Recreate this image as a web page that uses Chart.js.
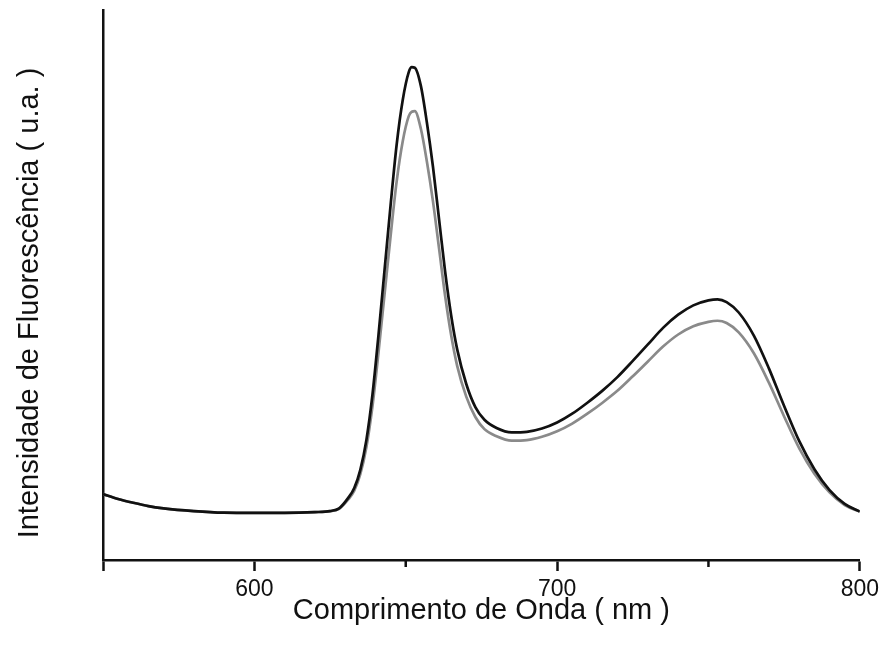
<!DOCTYPE html>
<html>
<head>
<meta charset="utf-8">
<script src="https://cdn.jsdelivr.net/npm/chart.js@4"></script>
<style>
  html, body { margin: 0; padding: 0; background: #fff; }
  #wrap { width: 879px; height: 646px; }
</style>
</head>
<body>
<div id="wrap"><canvas id="myChart"></canvas></div>
<script>
// wavelength (nm)
const wavelengths = [550, 555, 560, 565, 570, 580, 590, 600, 610, 620, 625, 628, 631, 633, 635,
  637, 639, 641, 643, 645, 647, 649, 651, 652, 653, 655, 657, 659, 661, 663,
  665, 667, 670, 673, 676, 680, 685, 690, 695, 700, 705, 710, 715, 720, 725,
  730, 735, 740, 745, 750, 753, 756, 760, 765, 770, 775, 780, 785, 790, 795, 800];

// fluorescence intensity (a.u.), black curve
const blackSeries = [12.0, 11.1, 10.4, 9.8, 9.4, 8.9, 8.6, 8.55, 8.55, 8.7, 8.9, 9.4, 11.3, 13.1, 16.4,
  21.8, 30.0, 40.9, 52.7, 64.5, 75.5, 83.6, 88.7, 89.6, 89.5, 86.2, 79.5, 71.5, 62.0, 52.5,
  44.5, 38.3, 32.0, 27.8, 25.5, 24.0, 23.2, 23.3, 23.9, 25.0, 26.6, 28.6, 30.8, 33.3, 36.2,
  39.2, 42.2, 44.6, 46.3, 47.2, 47.4, 46.9, 45.0, 40.8, 34.8, 28.0, 21.6, 16.5, 12.7, 10.2, 8.8];

// fluorescence intensity (a.u.), gray curve
const graySeries = [12.0, 11.1, 10.4, 9.8, 9.4, 8.9, 8.6, 8.55, 8.55, 8.7, 8.9, 9.3, 11.0, 12.6, 15.6,
  20.5, 27.9, 37.7, 48.3, 58.9, 68.8, 76.1, 80.7, 81.5, 81.6, 78.4, 72.4, 65.2, 56.7, 48.1,
  40.9, 35.3, 29.7, 26.0, 23.8, 22.5, 21.7, 21.8, 22.4, 23.4, 24.8, 26.6, 28.6, 30.8, 33.4,
  36.1, 38.8, 41.0, 42.5, 43.3, 43.5, 43.1, 41.4, 37.6, 32.2, 26.1, 20.3, 15.7, 12.3, 10.0, 8.8];

const majorTicks = [550, 600, 700, 800];
const labelledTicks = [600, 700, 800];
const minorTicks = [650, 750];

const yTitle = "Intensidade de Fluorescência ( u.a. )";
const fontFamily = "'Liberation Sans', Arial, sans-serif";

const toPoints = (ys) => wavelengths.map((x, i) => ({ x: x, y: ys[i] }));

// short minor ticks on the x scale + y axis title (sits a bit below centre in the original)
const extrasPlugin = {
  id: "extras",
  afterDraw(chart) {
    const sx = chart.scales.x;
    const area = chart.chartArea;
    const ctx = chart.ctx;
    ctx.save();
    ctx.strokeStyle = "#111";
    ctx.lineWidth = 2.5;
    minorTicks.forEach(function (v) {
      const px = sx.getPixelForValue(v);
      ctx.beginPath();
      ctx.moveTo(px, sx.top);
      ctx.lineTo(px, sx.top + 7);
      ctx.stroke();
    });

    ctx.translate(30, (area.top + area.bottom) / 2 + 18);
    ctx.rotate(-Math.PI / 2);
    ctx.fillStyle = "#111";
    ctx.font = "29px " + fontFamily;
    ctx.textAlign = "center";
    ctx.textBaseline = "middle";
    ctx.fillText(yTitle, 0, 0);
    ctx.restore();
  }
};

const config = {
  type: "line",
  data: {
    datasets: [
      {
        label: "A",
        data: toPoints(blackSeries),
        borderColor: "#111111",
        borderWidth: 2.7,
        pointRadius: 0,
        cubicInterpolationMode: "monotone",
        fill: false,
      },
      {
        label: "B",
        data: toPoints(graySeries),
        borderColor: "#8a8a8a",
        borderWidth: 2.7,
        pointRadius: 0,
        cubicInterpolationMode: "monotone",
        fill: false,
      },
    ],
  },
  options: {
    responsive: true,
    maintainAspectRatio: false,
    animation: false,
    layout: { padding: { top: 10, left: 0, right: 0, bottom: 0 } },
    plugins: {
      legend: { display: false },
      tooltip: { enabled: false },
    },
    scales: {
      x: {
        type: "linear",
        min: 550,
        max: 800,
        afterBuildTicks: function (scale) {
          scale.ticks = majorTicks.concat(minorTicks).sort().map(v => ({ value: v }));
        },
        ticks: {
          color: "#111",
          padding: 0,
          maxRotation: 0,
          autoSkip: false,
          font: { family: fontFamily, size: 23, lineHeight: 1.6 },
          callback: function (value) {
            return labelledTicks.includes(value) ? String(value) : "";
          },
        },
        grid: {
          drawOnChartArea: false,
          drawTicks: true,
          tickLength: 11,
          tickWidth: 2.5,
          tickColor: function (c) {
            return majorTicks.includes(c.tick.value) ? "#111" : "rgba(0,0,0,0)";
          },
        },
        border: { display: true, color: "#111", width: 2.5 },
        title: {
          display: true,
          text: "Comprimento de Onda ( nm )",
          color: "#111",
          font: { family: fontFamily, size: 29, lineHeight: 1 },
          padding: { top: -11.8, bottom: 21 },
        },
      },
      y: {
        min: 0,
        max: 100,
        ticks: { display: false },
        grid: { display: false, drawTicks: false },
        border: { display: true, color: "#111", width: 2.5 },
        title: { display: false },
        afterFit: function (scale) {
          scale.width = 103;
        },
      },
    },
  },
  plugins: [extrasPlugin],
};

new Chart(document.getElementById("myChart"), config);
</script>
</body>
</html>
